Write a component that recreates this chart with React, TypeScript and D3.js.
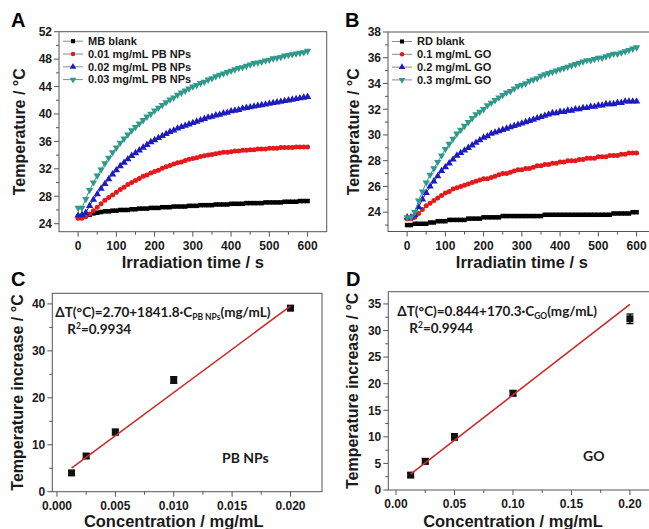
import React from 'react';
import * as d3 from 'd3';

const W = 649;
const H = 529;

// ---------- Panel A / B data ----------
const times = [0,10,20,30,40,50,60,70,80,90,100,110,120,130,140,150,160,170,180,190,200,210,220,230,240,250,260,270,280,290,300,310,320,330,340,350,360,370,380,390,400,410,420,430,440,450,460,470,480,490,500,510,520,530,540,550,560,570,580,590,600];

const mbBlank = [25.0,25.1,25.2,25.3,25.5,25.6,25.7,25.8,25.8,25.9,25.9,26.0,26.0,26.0,26.1,26.1,26.2,26.2,26.2,26.3,26.3,26.3,26.4,26.4,26.4,26.5,26.5,26.5,26.5,26.6,26.6,26.6,26.7,26.7,26.7,26.7,26.8,26.8,26.8,26.8,26.9,26.9,26.9,26.9,27.0,27.0,27.0,27.0,27.0,27.1,27.1,27.1,27.1,27.1,27.2,27.2,27.2,27.2,27.3,27.3,27.3];
const pb001 = [24.8,24.8,25.0,25.4,25.9,26.4,26.9,27.4,27.8,28.2,28.6,29.0,29.3,29.7,30.0,30.3,30.6,30.9,31.1,31.4,31.6,31.8,32.1,32.3,32.5,32.7,32.9,33.0,33.2,33.4,33.5,33.6,33.8,33.9,34.0,34.1,34.2,34.3,34.4,34.4,34.5,34.6,34.6,34.7,34.7,34.8,34.8,34.9,34.9,34.9,35.0,35.0,35.0,35.1,35.1,35.1,35.1,35.2,35.2,35.2,35.2];
const pb002 = [25.2,25.3,25.6,26.6,27.5,28.3,29.1,29.8,30.5,31.2,31.8,32.4,32.9,33.4,33.9,34.3,34.7,35.1,35.5,35.9,36.2,36.5,36.8,37.1,37.4,37.6,37.9,38.1,38.3,38.5,38.7,38.9,39.1,39.3,39.5,39.6,39.8,39.9,40.1,40.2,40.4,40.5,40.6,40.8,40.9,41.0,41.1,41.2,41.3,41.4,41.5,41.6,41.7,41.8,41.9,42.0,42.1,42.2,42.3,42.4,42.5];
const pb003 = [26.3,26.3,27.6,28.9,30.0,31.0,31.9,32.8,33.6,34.4,35.1,35.8,36.4,37.0,37.6,38.1,38.6,39.1,39.6,40.0,40.5,40.9,41.3,41.7,42.1,42.4,42.8,43.1,43.4,43.7,44.0,44.2,44.5,44.7,45.0,45.2,45.5,45.7,45.9,46.1,46.3,46.5,46.7,46.8,47.0,47.2,47.4,47.5,47.6,47.8,47.9,48.1,48.2,48.3,48.5,48.6,48.7,48.8,48.9,49.0,49.2];

const rdBlank = [23.0,23.0,23.1,23.1,23.1,23.1,23.2,23.2,23.3,23.3,23.3,23.4,23.4,23.4,23.4,23.4,23.5,23.5,23.5,23.5,23.6,23.6,23.6,23.6,23.6,23.7,23.7,23.7,23.7,23.7,23.7,23.7,23.7,23.7,23.7,23.7,23.8,23.8,23.8,23.8,23.8,23.8,23.8,23.8,23.8,23.8,23.8,23.8,23.8,23.8,23.8,23.8,23.8,23.8,23.9,23.9,23.9,23.9,23.9,24.0,24.0];
const go01 = [23.5,23.5,23.6,23.9,24.2,24.5,24.7,24.9,25.1,25.3,25.5,25.6,25.8,25.9,26.0,26.1,26.2,26.3,26.4,26.5,26.6,26.6,26.7,26.8,26.9,27.0,27.0,27.1,27.2,27.3,27.3,27.4,27.4,27.5,27.6,27.6,27.7,27.7,27.8,27.8,27.9,27.9,28.0,28.0,28.0,28.1,28.1,28.2,28.2,28.2,28.3,28.3,28.3,28.4,28.4,28.4,28.5,28.5,28.6,28.6,28.6];
const go02 = [23.6,23.6,23.8,24.4,25.0,25.5,26.0,26.4,26.8,27.2,27.5,27.8,28.1,28.4,28.6,28.8,29.0,29.2,29.4,29.6,29.8,29.9,30.1,30.2,30.3,30.4,30.5,30.6,30.7,30.8,30.9,31.0,31.1,31.2,31.3,31.4,31.5,31.6,31.7,31.7,31.8,31.8,31.9,31.9,32.0,32.0,32.1,32.1,32.2,32.2,32.3,32.3,32.4,32.4,32.4,32.5,32.5,32.6,32.6,32.6,32.6];
const go03 = [23.6,23.6,24.0,24.9,25.6,26.3,26.9,27.4,27.9,28.4,28.9,29.3,29.7,30.1,30.4,30.7,31.0,31.3,31.6,31.8,32.0,32.3,32.5,32.7,32.9,33.1,33.3,33.4,33.6,33.8,33.9,34.0,34.2,34.3,34.4,34.6,34.7,34.8,34.9,35.0,35.1,35.2,35.3,35.4,35.5,35.6,35.7,35.8,35.8,35.9,36.0,36.0,36.1,36.2,36.3,36.3,36.4,36.5,36.6,36.7,36.8];

const legendA = ['MB blank', '0.01 mg/mL PB NPs', '0.02 mg/mL PB NPs', '0.03 mg/mL PB NPs'];
const legendB = ['RD blank', '0.1 mg/mL GO', '0.2 mg/mL GO', '0.3 mg/mL GO'];

const timeTicks = [0, 100, 200, 300, 400, 500, 600];
const timeMinor = [50, 150, 250, 350, 450, 550];
const aYTicks = [24, 28, 32, 36, 40, 44, 48, 52];
const aYMinor = [26, 30, 34, 38, 42, 46, 50];
const bYTicks = [24, 26, 28, 30, 32, 34, 36, 38];
const bYMinor = [23, 25, 27, 29, 31, 33, 35, 37];

// ---------- Panel C / D data ----------
const pbConc = [0.00125, 0.0025, 0.005, 0.01, 0.02];
const pbDT = [4.0, 7.6, 12.7, 23.8, 39.1];
const pbErr = [0.5, 0.5, 0.6, 0.7, 0.5];
const pbFit = { a: 2.70, b: 1841.8 };

const goConc = [0.0125, 0.025, 0.05, 0.1, 0.2];
const goDT = [2.8, 5.4, 10.0, 18.2, 32.2];
const goErr = [0.4, 0.5, 0.6, 0.5, 0.9];
const goFit = { a: 0.844, b: 170.3 };

const cXTicks = [0, 0.005, 0.01, 0.015, 0.02];
const cXMinor = [0.0025, 0.0075, 0.0125, 0.0175];
const cYTicks = [0, 10, 20, 30, 40];
const cYMinor = [5, 15, 25, 35];
const dXTicks = [0, 0.05, 0.1, 0.15, 0.2];
const dXMinor = [0.025, 0.075, 0.125, 0.175];
const dYTicks = [0, 5, 10, 15, 20, 25, 30, 35];
const dYMinor = [2.5, 7.5, 12.5, 17.5, 22.5, 27.5, 32.5];

const COLORS = ['#000000', '#e3191c', '#1c1cc0', '#2f9a8c'];
const SHAPES = ['square', 'circle', 'up', 'down'];

const AXIS_FONT = "'Liberation Sans', Arial, sans-serif";
const ANN_FONT = "Lato, 'Open Sans', sans-serif";
const FRAME = '#555';
const TEXT = '#1a1a1a';

type Frame = { l: number; r: number; t: number; b: number };

function Marker({ shape, x, y, color, s }: { shape: string; x: number; y: number; color: string; s: number }) {
  if (shape === 'square') return <rect x={x - s / 2} y={y - s / 2} width={s} height={s} fill={color} />;
  if (shape === 'circle') return <circle cx={x} cy={y} r={s / 2} fill={color} />;
  const path = d3.symbol(d3.symbolTriangle, s * s * 0.55)() as string;
  return <path d={path} transform={`translate(${x},${y}) rotate(${shape === 'down' ? 180 : 0})`} fill={color} />;
}

function Axes({ f, x, y, xTicks, xMinor, yTicks, yMinor, xFmt, yFmt }: any) {
  return (
    <g>
      <rect x={f.l} y={f.t} width={f.r - f.l} height={f.b - f.t} fill="none" stroke={FRAME} strokeWidth={1} />
      {xTicks.map((t: number, i: number) => (
        <g key={'xt' + i}>
          <line x1={x(t)} x2={x(t)} y1={f.b} y2={f.b + 5} stroke={FRAME} />
          <text x={x(t)} y={f.b + 18} textAnchor="middle" fontSize={12} fontWeight="bold" fontFamily={AXIS_FONT} fill={TEXT}>{xFmt(t)}</text>
        </g>
      ))}
      {xMinor.map((t: number, i: number) => (
        <line key={'xm' + i} x1={x(t)} x2={x(t)} y1={f.b} y2={f.b + 3} stroke={FRAME} />
      ))}
      {yTicks.map((t: number, i: number) => (
        <g key={'yt' + i}>
          <line x1={f.l - 5} x2={f.l} y1={y(t)} y2={y(t)} stroke={FRAME} />
          <text x={f.l - 7} y={y(t) + 4.3} textAnchor="end" fontSize={12} fontWeight="bold" fontFamily={AXIS_FONT} fill={TEXT}>{yFmt(t)}</text>
        </g>
      ))}
      {yMinor.map((t: number, i: number) => (
        <line key={'ym' + i} x1={f.l - 3} x2={f.l} y1={y(t)} y2={y(t)} stroke={FRAME} />
      ))}
    </g>
  );
}

function TimePanel({ f, yDomain, yTicks, yMinor, series, legend, label, xTitle, labelX, legendX }: any) {
  const x = d3.scaleLinear().domain([-50, 650]).range([f.l, f.r]);
  const y = d3.scaleLinear().domain(yDomain).range([f.b, f.t]);
  const line = d3.line<number>().x((_, i) => x(times[i])).y((d) => y(d));
  const sizes = [4.5, 5, 6.5, 6.5];
  return (
    <g>
      <Axes f={f} x={x} y={y} xTicks={timeTicks} xMinor={timeMinor} yTicks={yTicks} yMinor={yMinor}
        xFmt={(t: number) => String(t)} yFmt={(t: number) => String(t)} />
      {series.map((s: number[], k: number) => (
        <g key={k}>
          <path d={line(s) as string} fill="none" stroke={COLORS[k]} strokeWidth={1} />
          {s.map((v, i) => (
            <Marker key={i} shape={SHAPES[k]} x={x(times[i])} y={y(v)} color={COLORS[k]} s={sizes[k]} />
          ))}
        </g>
      ))}
      {legend.map((name: string, k: number) => {
        const ly = f.t + 9.5 + k * 12.8;
        return (
          <g key={'lg' + k}>
            <line x1={legendX} x2={legendX + 20} y1={ly} y2={ly} stroke="#8a8a8a" strokeWidth={1} />
            <Marker shape={SHAPES[k]} x={legendX + 10} y={ly} color={COLORS[k]} s={sizes[k] * 0.9} />
            <text x={legendX + 25} y={ly + 3.8} fontSize={11} fontWeight="bold" fontFamily={AXIS_FONT} fill={TEXT}>{name}</text>
          </g>
        );
      })}
      <text x={labelX} y={27} fontSize={20} fontWeight="bold" fontFamily={AXIS_FONT} fill="#000">{label}</text>
      <text transform={`translate(${labelX + 14},${(f.t + f.b) / 2}) rotate(-90)`} textAnchor="middle" fontSize={16} fontWeight="bold" fontFamily={AXIS_FONT} fill={TEXT}>Temperature / °C</text>
      <text x={(x(0) + x(600)) / 2} y={268} textAnchor="middle" fontSize={16.5} fontWeight="bold" fontFamily={AXIS_FONT} fill={TEXT}>{xTitle}</text>
    </g>
  );
}

function CalPanel({ f, xDomain, yDomain, xTicks, xMinor, yTicks, yMinor, xFmt, conc, dt, err, fit, label, labelX, eq, r2, tag, tagX, sub, eqDx }: any) {
  const x = d3.scaleLinear().domain(xDomain).range([f.l, f.r]);
  const y = d3.scaleLinear().domain(yDomain).range([f.b, f.t]);
  const x0 = conc[0];
  const x1 = conc[conc.length - 1];
  return (
    <g>
      <Axes f={f} x={x} y={y} xTicks={xTicks} xMinor={xMinor} yTicks={yTicks} yMinor={yMinor}
        xFmt={xFmt} yFmt={(t: number) => String(t)} />
      {conc.map((c: number, i: number) => (
        <g key={i}>
          <line x1={x(c)} x2={x(c)} y1={y(dt[i] - err[i])} y2={y(dt[i] + err[i])} stroke="#000" strokeWidth={1.3} />
          <line x1={x(c) - 3.5} x2={x(c) + 3.5} y1={y(dt[i] - err[i])} y2={y(dt[i] - err[i])} stroke="#000" strokeWidth={1.3} />
          <line x1={x(c) - 3.5} x2={x(c) + 3.5} y1={y(dt[i] + err[i])} y2={y(dt[i] + err[i])} stroke="#000" strokeWidth={1.3} />
          <rect x={x(c) - 3.5} y={y(dt[i]) - 3.5} width={7} height={7} fill="#111" />
        </g>
      ))}
      <line x1={x(x0)} x2={x(x1)} y1={y(fit.a + fit.b * x0)} y2={y(fit.a + fit.b * x1)} stroke="#cc2a2a" strokeWidth={1.6} />
      <text x={f.l + eqDx} y={f.t + 24} fontSize={13.5} fontWeight="bold" fontFamily={ANN_FONT} fill={TEXT}>
        {eq[0]}<tspan fontSize={8.5} dy={3}>{sub}</tspan><tspan dy={-3}>{eq[1]}</tspan>
      </text>
      <text x={f.l + eqDx + 12} y={f.t + 41} fontSize={13.5} fontWeight="bold" fontFamily={ANN_FONT} fill={TEXT}>
        R<tspan fontSize={8.5} dy={-5}>2</tspan><tspan dy={5}>{r2}</tspan>
      </text>
      <text x={tagX} y={f.b - 29} fontSize={14} fontWeight="bold" fontFamily={ANN_FONT} fill={TEXT}>{tag}</text>
      <text x={labelX} y={286} fontSize={20} fontWeight="bold" fontFamily={AXIS_FONT} fill="#000">{label}</text>
      <text transform={`translate(${labelX + 12},${(f.t + f.b) / 2}) rotate(-90)`} textAnchor="middle" fontSize={16} fontWeight="bold" fontFamily={AXIS_FONT} fill={TEXT}>Temperature increase / °C</text>
      <text x={(x(xTicks[0]) + x(xTicks[xTicks.length - 1])) / 2} y={527} textAnchor="middle" fontSize={16.5} fontWeight="bold" fontFamily={AXIS_FONT} fill={TEXT}>Concentration / mg/mL</text>
    </g>
  );
}

export default function App() {
  const fA: Frame = { l: 59, r: 326.7, t: 31.7, b: 231.7 };
  const fB: Frame = { l: 388, r: 655.7, t: 32, b: 231.5 };
  const fC: Frame = { l: 52.3, r: 322, t: 293.3, b: 491.7 };
  const fD: Frame = { l: 388.3, r: 658, t: 291.7, b: 490 };
  return (
    <svg width={W} height={H} viewBox={`0 0 ${W} ${H}`} style={{ position: 'absolute', left: 0, top: 0, background: '#fff' }}>
      <rect x={0} y={0} width={W} height={H} fill="#fff" />
      <TimePanel f={fA} yDomain={[22.83, 52]} yTicks={aYTicks} yMinor={aYMinor}
        series={[mbBlank, pb001, pb002, pb003]} legend={legendA} label="A" xTitle="Irradiation time / s" labelX={11} legendX={63} />
      <TimePanel f={fB} yDomain={[22.5, 38]} yTicks={bYTicks} yMinor={bYMinor}
        series={[rdBlank, go01, go02, go03]} legend={legendB} label="B" xTitle="Irradiatin time / s" labelX={345} legendX={392} />
      <CalPanel f={fC} xDomain={[-0.0004, 0.0227]} yDomain={[0, 42.26]} xTicks={cXTicks} xMinor={cXMinor}
        yTicks={cYTicks} yMinor={cYMinor} xFmt={(t: number) => t.toFixed(3)}
        conc={pbConc} dt={pbDT} err={pbErr} fit={pbFit} label="C" labelX={11} eqDx={3}
        eq={['ΔT(°C)=2.70+1841.8·C', '(mg/mL)']} sub="PB NPs" r2="=0.9934" tag="PB NPs" tagX={222} />
      <CalPanel f={fD} xDomain={[-0.0066, 0.224]} yDomain={[0, 37.3]} xTicks={dXTicks} xMinor={dXMinor}
        yTicks={dYTicks} yMinor={dYMinor} xFmt={(t: number) => t.toFixed(2)}
        conc={goConc} dt={goDT} err={goErr} fit={goFit} label="D" labelX={346} eqDx={9}
        eq={['ΔT(°C)=0.844+170.3·C', '(mg/mL)']} sub="GO" r2="=0.9944" tag="GO" tagX={583} />
    </svg>
  );
}
